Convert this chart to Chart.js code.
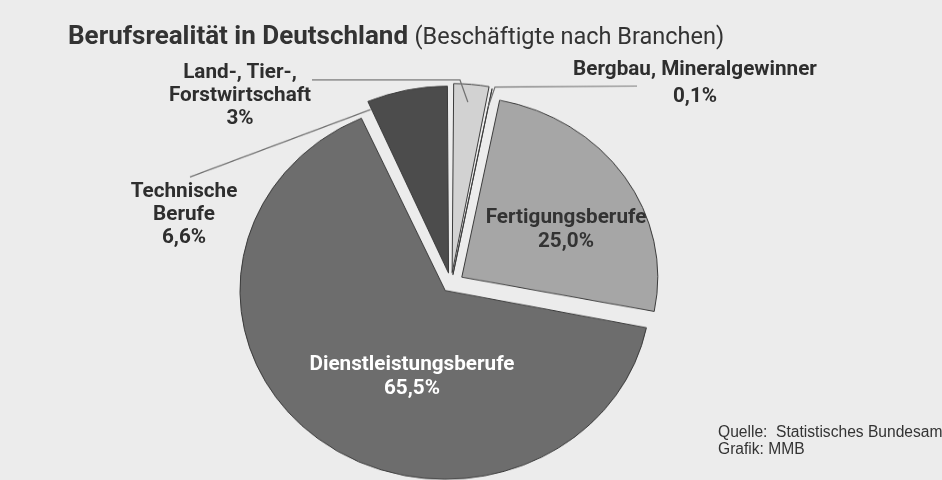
<!DOCTYPE html>
<html lang="de">
<head>
<meta charset="utf-8">
<title>Berufsrealität in Deutschland</title>
<script src="https://cdn.jsdelivr.net/npm/chart.js@4.4.1/dist/chart.umd.min.js"></script>
<style>
  html, body { margin: 0; padding: 0; background: #ececec; }
  body {
    width: 942px; height: 480px; overflow: hidden; position: relative;
    font-family: Roboto, "Liberation Sans", Arial, sans-serif; color: #2e2e2e;
  }
  /* the scanned original is a little squashed vertically */
  #wrap { position: absolute; left: 0; top: 0; width: 942px; height: 522px; transform: scaleY(0.92); transform-origin: 0 0; }
  #title { position: absolute; left: 68px; top: 20px; font-size: 26px; line-height: 30px; white-space: nowrap; color: #333; }
  #title b { font-weight: 700; }
  #title span { font-size: 23.5px; }
  .lbl { position: absolute; text-align: center; font-weight: 700; font-size: 20.7px; white-space: nowrap; transform: translateX(-50%); }
  #source { position: absolute; left: 718px; top: 423px; font-family: "Liberation Sans", Arial, sans-serif; font-size: 15.6px; line-height: 17px; white-space: nowrap; color: #333; }
</style>
</head>
<body>
<div id="wrap"><canvas id="pie" width="942" height="522"></canvas></div>
<div id="title"><b>Berufsrealität in Deutschland</b> <span>(Beschäftigte nach Branchen)</span></div>
<div id="source">Quelle:&nbsp; Statistisches Bundesamt<br>Grafik: MMB</div>

<script>
// Daten
const categories = ['Land-, Tier-,\nForstwirtschaft', 'Bergbau, Mineralgewinner', 'Fertigungsberufe', 'Dienstleistungsberufe', 'Technische\nBerufe'];
const shares = [3, 0.1, 25.0, 65.5, 6.6];
const shareTexts = ['3%', '0,1%', '25,0%', '65,5%', '6,6%'];

// Aussehen
const SY = 0.92;
const sliceColors = ['#d2d2d2', '#8a8a8a', '#a6a6a6', '#6d6d6d', '#4c4c4c'];
const sliceOffsets = [48, 40, 52, 37, 48];

// Beschriftungen (x = Mitte, top = oberer Rand, lh = Zeilenhöhe)
const labelPos = [
  { x: 240, top: 60, lh: 23, color: '#2e2e2e' },
  { x: 695, top: 55, lh: 27, color: '#2e2e2e' },
  { x: 566, top: 204, lh: 24, color: '#333333' },
  { x: 412, top: 351, lh: 24, color: '#ffffff' },
  { x: 184, top: 179, lh: 23, color: '#2e2e2e' }
];

// Hinweislinien: Knickpunkte in Seitenkoordinaten, Ende auf dem Segment
const leaderLines = [
  { index: 0, points: [[312, 80], [460, 80]], angle: 0.45, depth: 0.95 },
  { index: 1, points: [[637, 86], [495, 87]], angle: 0.5, depth: 0.95 },
  { index: 4, points: [[190, 177]], angle: 0.0, depth: 0.99 }
];

const leaderPlugin = {
  id: 'leaders',
  afterDatasetsDraw(chart) {
    const ctx = chart.ctx;
    const arcs = chart.getDatasetMeta(0).data;
    ctx.save();
    ctx.strokeStyle = '#707070';
    ctx.lineWidth = 1.2;
    leaderLines.forEach(l => {
      const arc = arcs[l.index];
      const half = (arc.startAngle + arc.endAngle) / 2;
      const shift = (arc.options.offset || 0) / 4;
      const a = arc.startAngle + (arc.endAngle - arc.startAngle) * l.angle;
      const r = arc.outerRadius * l.depth;
      const ex = arc.x + Math.cos(half) * shift + Math.cos(a) * r;
      const ey = arc.y + Math.sin(half) * shift + Math.sin(a) * r;
      ctx.beginPath();
      l.points.forEach((p, i) => {
        if (i === 0) ctx.moveTo(p[0], p[1] / SY);
        else ctx.lineTo(p[0], p[1] / SY);
      });
      ctx.lineTo(ex, ey);
      ctx.stroke();
    });
    ctx.restore();
  }
};

new Chart(document.getElementById('pie'), {
  type: 'pie',
  data: {
    labels: categories,
    datasets: [{
      data: shares,
      backgroundColor: sliceColors,
      borderColor: '#3a3a3a',
      borderWidth: 1,
      offset: sliceOffsets,
      clip: false
    }]
  },
  options: {
    responsive: false,
    animation: false,
    radius: 196,
    events: [],
    layout: { padding: { top: 95, right: 40, bottom: 0, left: 0 } },
    plugins: {
      legend: { display: false },
      tooltip: { enabled: false }
    }
  },
  plugins: [leaderPlugin]
});

// Texte der Segmente
categories.forEach((name, i) => {
  const pos = labelPos[i];
  const div = document.createElement('div');
  div.className = 'lbl';
  div.style.left = pos.x + 'px';
  div.style.top = pos.top + 'px';
  div.style.lineHeight = pos.lh + 'px';
  div.style.color = pos.color;
  div.innerHTML = name.split('\n').concat([shareTexts[i]]).join('<br>');
  document.body.appendChild(div);
});
</script>
</body>
</html>
